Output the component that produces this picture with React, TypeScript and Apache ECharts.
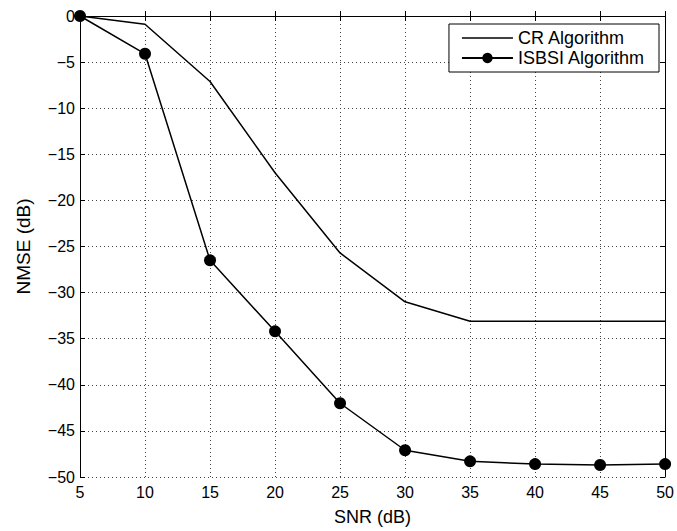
import React, { useEffect, useRef } from "react";
import * as echarts from "echarts";

const snr = [5, 10, 15, 20, 25, 30, 35, 40, 45, 50];
const crValues = [0, -0.9, -7.1, -17.0, -25.7, -31.0, -33.1, -33.1, -33.1, -33.1];
const isbsiValues = [0, -4.1, -26.5, -34.2, -42.0, -47.1, -48.3, -48.6, -48.7, -48.6];
const seriesNames = ["CR Algorithm", "ISBSI Algorithm"];
const axisNames = { x: "SNR (dB)", y: "NMSE (dB)" };

const FONT = "Liberation Sans, Arial, Helvetica, sans-serif";

export default function App() {
  const ref = useRef<HTMLDivElement>(null);
  useEffect(() => {
    if (!ref.current) return;
    const chart = echarts.init(ref.current, undefined, { renderer: "svg" });
    const fmtY = (v: number) => (v < 0 ? "\u2212" + Math.abs(v) : String(v));
    const axisLine = { show: true, lineStyle: { color: "#000", width: 1 } };
    const tick = { show: true, inside: true, length: 5, lineStyle: { color: "#000" } };
    const grid = { show: true, lineStyle: { color: "#444", type: [1, 3] as any, width: 1 } };
    chart.setOption({
      animation: false,
      backgroundColor: "#fff",
      textStyle: { fontFamily: FONT },
      grid: { left: 80, top: 16, right: 10, bottom: 53, containLabel: false },
      legend: {
        right: 18,
        top: 24,
        orient: "vertical",
        itemWidth: 51,
        itemHeight: 13,
        itemGap: 2,
        padding: [5, 14, 5, 12],
        borderColor: "#000",
        borderWidth: 1,
        borderRadius: 0,
        backgroundColor: "#fff",
        symbolKeepAspect: true,
        textStyle: { fontFamily: FONT, fontSize: 18, color: "#000" },
        data: [
          { name: seriesNames[0], icon: "path://M0,0 L51,0 L51,1.5 L0,1.5 Z" },
          { name: seriesNames[1] },
        ],
      },
      xAxis: [
        {
          type: "value",
          min: 5,
          max: 50,
          interval: 5,
          name: axisNames.x,
          nameLocation: "middle",
          nameGap: 31,
          nameTextStyle: { fontFamily: FONT, fontSize: 18, color: "#000" },
          axisLine,
          axisTick: tick,
          splitLine: grid,
          axisLabel: { color: "#000", fontSize: 16, fontFamily: FONT, margin: 7 },
        },
        {
          type: "value",
          min: 5,
          max: 50,
          interval: 5,
          position: "top",
          axisLine,
          axisTick: tick,
          splitLine: { show: false },
          axisLabel: { show: false },
        },
      ],
      yAxis: [
        {
          type: "value",
          min: -50,
          max: 0,
          interval: 5,
          name: axisNames.y,
          nameLocation: "middle",
          nameGap: 47,
          nameRotate: 90,
          nameTextStyle: { fontFamily: FONT, fontSize: 19, color: "#000" },
          axisLine,
          axisTick: tick,
          splitLine: grid,
          axisLabel: { color: "#000", fontSize: 16, fontFamily: FONT, margin: 5, formatter: fmtY },
        },
        {
          type: "value",
          min: -50,
          max: 0,
          interval: 5,
          position: "right",
          axisLine,
          axisTick: tick,
          splitLine: { show: false },
          axisLabel: { show: false },
        },
      ],
      series: [
        {
          name: seriesNames[0],
          type: "line",
          data: snr.map((x, i) => [x, crValues[i]]),
          symbol: "none",
          lineStyle: { color: "#000", width: 1.5 },
          itemStyle: { color: "#000" },
        },
        {
          name: seriesNames[1],
          type: "line",
          data: snr.map((x, i) => [x, isbsiValues[i]]),
          symbol: "circle",
          symbolSize: 12,
          lineStyle: { color: "#000", width: 1.5 },
          itemStyle: { color: "#000" },
        },
      ],
    });
    return () => chart.dispose();
  }, []);
  return (
    <div
      ref={ref}
      style={{ position: "absolute", left: 0, top: 0, width: 677, height: 531 }}
    />
  );
}
